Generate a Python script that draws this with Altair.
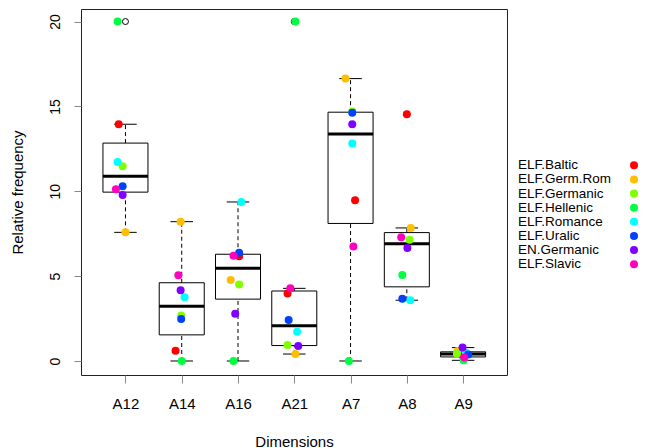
import altair as alt
import numpy as np
import pandas as pd

dims = ["A12", "A14", "A16", "A21", "A7", "A8", "A9"]
groups = ["ELF.Baltic", "ELF.Germ.Rom", "ELF.Germanic", "ELF.Hellenic",
          "ELF.Romance", "ELF.Uralic", "EN.Germanic", "ELF.Slavic"]
colors = ["#FF0000", "#FFBF00", "#80FF00", "#00FF40",
          "#00FFFF", "#0040FF", "#8000FF", "#FF00BF"]

# values per dimension, in group order
A12 = [13.95, 7.58, 11.47, 20.0, 11.73, 10.29, 9.78, 10.12]
A14 = [0.61, 8.21, 2.68, 0.0, 3.76, 2.47, 4.17, 5.05]
A16 = [6.17, 4.77, 4.50, 0.0, 9.37, 6.38, 2.79, 6.20]
A21 = [3.97, 0.41, 0.94, 20.0, 1.73, 2.42, 0.88, 4.28]
A7 = [9.47, 16.64, 14.70, 0.0, 12.81, 14.62, 13.95, 6.74]
A8 = [14.54, 7.84, 7.15, 5.07, 3.58, 3.67, 6.66, 7.29]
A9 = [0.28, 0.59, 0.43, 0.04, 0.49, 0.39, 0.79, 0.20]

# horizontal jitter (category units), group order
J12 = [-0.12, 0.0, -0.05, -0.14, -0.14, -0.05, -0.05, -0.17]
J14 = [-0.11, -0.02, -0.01, 0.0, 0.05, -0.01, -0.02, -0.06]
J16 = [0.02, -0.13, 0.02, -0.08, 0.06, 0.02, -0.05, -0.08]
J21 = [-0.12, 0.02, -0.12, 0.02, 0.05, -0.10, 0.07, -0.07]
J7 = [0.08, -0.09, 0.03, -0.03, 0.03, 0.03, 0.03, 0.05]
J8 = [0.0, 0.07, 0.05, -0.08, 0.06, -0.08, 0.01, -0.10]
J9 = [0.0, -0.10, -0.11, 0.01, 0.05, 0.09, -0.01, 0.02]

values = [A12, A14, A16, A21, A7, A8, A9]
jitters = [J12, J14, J16, J21, J7, J8, J9]

y_ticks = [0, 5, 10, 15, 20]

FONT = "Liberation Sans"


def box_stats(v):
    s = sorted(v)
    n = len(s)
    n4 = np.floor((n + 3) / 2) / 2
    pos = [n4, (n + 1) / 2, n + 1 - n4]
    q = [0.5 * (s[int(np.floor(p)) - 1] + s[int(np.ceil(p)) - 1]) for p in pos]
    iqr = q[2] - q[0]
    lo = min(x for x in s if x >= q[0] - 1.5 * iqr)
    hi = max(x for x in s if x <= q[2] + 1.5 * iqr)
    out = [x for x in s if x < lo or x > hi]
    return q[0], q[1], q[2], lo, hi, out


box_rows, pt_rows, out_rows = [], [], []
for i, (d, v, j) in enumerate(zip(dims, values, jitters)):
    idx = i + 1
    q1, med, q3, lo, hi, out = box_stats(v)
    box_rows.append(dict(dim=d, idx=idx, q1=q1, med=med, q3=q3, lo=lo, hi=hi,
                         left=idx - 0.4, right=idx + 0.4,
                         capl=idx - 0.2, capr=idx + 0.2))
    for o in out:
        out_rows.append(dict(idx=idx, val=o))
    for k, (g, val, jj) in enumerate(zip(groups, v, j)):
        pt_rows.append(dict(dim=d, group=g, xj=idx + jj, val=val, order=k))

box_df = pd.DataFrame(box_rows)
pt_df = pd.DataFrame(pt_rows)
out_df = pd.DataFrame(out_rows)

label_expr = "[" + ",".join("'%s'" % d for d in dims) + "][datum.value - 1]"

xscale = alt.Scale(domain=[0.21, 7.78], nice=False, zero=False)
yscale = alt.Scale(domain=[-0.825, 20.74], nice=False, zero=False)
xaxis = alt.Axis(values=list(range(1, len(dims) + 1)), labelExpr=label_expr,
                 title="Dimensions", grid=False, domain=False, tickSize=8,
                 labelPadding=13, titlePadding=23, labelFontSize=15,
                 titleFontSize=15, labelFlush=False, titleFontWeight="normal",
                 labelFont=FONT, titleFont=FONT)
yaxis = alt.Axis(values=y_ticks, title="Relative frequency", grid=False,
                 domain=False, tickSize=7, labelAngle=-90, labelAlign="center",
                 labelBaseline="bottom", labelPadding=12, titlePadding=23,
                 labelFontSize=14, titleFontSize=15, labelFlush=False,
                 titleFontWeight="normal", labelFont=FONT, titleFont=FONT)


def X(f):
    return alt.X(f, type="quantitative", scale=xscale, axis=xaxis)


def Y(f):
    return alt.Y(f, type="quantitative", scale=yscale, axis=yaxis)


base_box = alt.Chart(box_df)

whisk_up = base_box.mark_rule(color="black", strokeDash=[4, 3], strokeWidth=1).encode(
    x=X("idx"), y=Y("q3"), y2="hi")
whisk_lo = base_box.mark_rule(color="black", strokeDash=[4, 3], strokeWidth=1).encode(
    x=X("idx"), y=Y("lo"), y2="q1")
cap_up = base_box.mark_rule(color="black", strokeWidth=1).encode(
    x=X("capl"), x2="capr", y=Y("hi"))
cap_lo = base_box.mark_rule(color="black", strokeWidth=1).encode(
    x=X("capl"), x2="capr", y=Y("lo"))
box = base_box.mark_rect(fillOpacity=0, stroke="black", strokeWidth=1).encode(
    x=X("left"), x2="right", y=Y("q1"), y2="q3")
median = base_box.mark_rule(color="black", strokeWidth=3).encode(
    x=X("left"), x2="right", y=Y("med"))
outl = alt.Chart(out_df).mark_point(shape="circle", filled=False, color="black",
                                     size=36, strokeWidth=1, opacity=1).encode(
    x=X("idx"), y=Y("val"))
pts = alt.Chart(pt_df).mark_circle(size=64, opacity=1).encode(
    x=X("xj"), y=Y("val"),
    color=alt.Color("group:N", scale=alt.Scale(domain=groups, range=colors), legend=None),
    order=alt.Order("order:Q"))

main = alt.layer(whisk_up, whisk_lo, cap_up, cap_lo, box, median, outl, pts).properties(
    width=426, height=366,
    view=alt.ViewBackground(stroke="#222222", strokeWidth=1, strokeOpacity=1))

leg_df = pd.DataFrame({"group": groups, "i": list(range(len(groups)))})
leg_df["tx"] = 0.0
leg_df["sx"] = 1.0
lx = alt.Scale(domain=[0, 1], nice=False, zero=False)
ly = alt.Scale(domain=[-11.05, 14.83], reverse=True, nice=False, zero=False)
leg_text = alt.Chart(leg_df).mark_text(align="left", baseline="middle", fontSize=13.5,
                                       font=FONT, color="black").encode(
    x=alt.X("tx:Q", scale=lx, axis=None), y=alt.Y("i:Q", scale=ly, axis=None),
    text="group:N")
leg_sym = alt.Chart(leg_df).mark_circle(size=64, opacity=1).encode(
    x=alt.X("sx:Q", scale=lx, axis=None), y=alt.Y("i:Q", scale=ly, axis=None),
    color=alt.Color("group:N", scale=alt.Scale(domain=groups, range=colors), legend=None))
legend = alt.layer(leg_text, leg_sym).properties(
    width=116, height=366,
    view=alt.ViewBackground(strokeOpacity=0, strokeWidth=0))

chart = alt.hconcat(main, legend, spacing=10,
                    padding={"left": 1, "top": 0, "right": 0, "bottom": 0}).resolve_scale(
    x="independent", y="independent", color="shared"
).configure_axis(
    labelColor="#222222", titleColor="#222222", tickColor="#222222"
).configure(background="white")

chart.save("out.html", embed_options={"renderer": "svg", "actions": False})
